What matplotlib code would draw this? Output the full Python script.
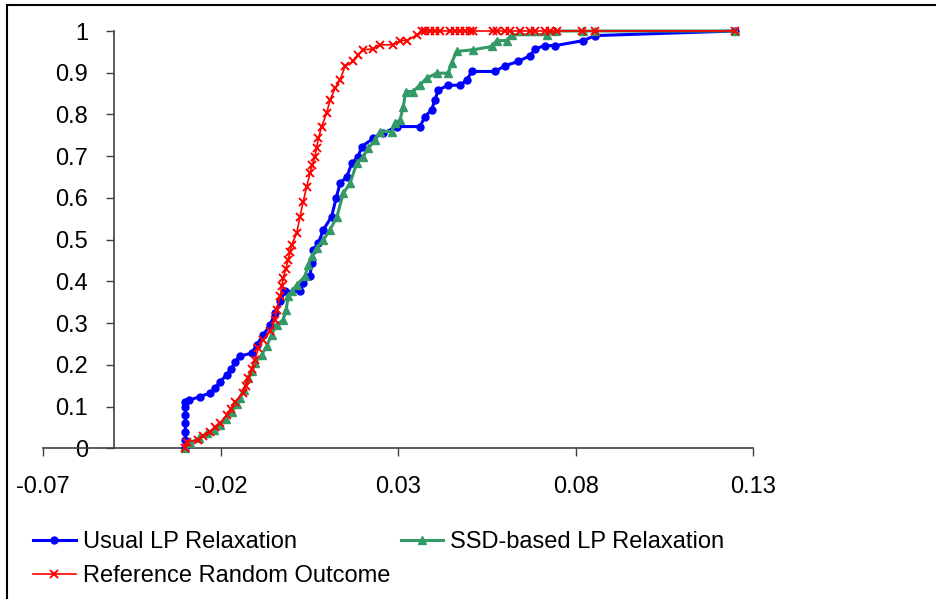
import matplotlib

matplotlib.use("Agg")
import matplotlib.pyplot as plt
from matplotlib.patches import Rectangle

plt.rcParams["font.family"] = ["Liberation Sans", "DejaVu Sans"]
plt.rcParams["axes.unicode_minus"] = False

# Usual LP Relaxation (blue circles)
usual_x = [-0.0300, -0.0300, -0.0300, -0.0300, -0.0300, -0.0300, -0.0300,
           -0.0290, -0.0259, -0.0231, -0.0215, -0.0202, -0.0183, -0.0170, -0.0160,
           -0.0146, -0.0113, -0.0099, -0.0080, -0.0061, -0.0047, -0.0033, -0.0019,
           0.0023, 0.0032, 0.0051, 0.0056, 0.0061, 0.0075, 0.0089, 0.0112, 0.0125,
           0.0136, 0.0155, 0.0169, 0.0187, 0.0197, 0.0230, 0.0258, 0.0296, 0.0361,
           0.0375, 0.0394, 0.0403, 0.0413, 0.0441, 0.0474, 0.0493, 0.0507, 0.0572,
           0.0601, 0.0638, 0.0671, 0.0685, 0.0713, 0.0742, 0.0821, 0.0854, 0.1248]
usual_y = [0.0, 0.02, 0.04, 0.06, 0.08, 0.10, 0.11,
           0.115, 0.124, 0.132, 0.145, 0.160, 0.176, 0.190, 0.208,
           0.221, 0.228, 0.248, 0.272, 0.296, 0.324, 0.352, 0.376,
           0.376, 0.396, 0.412, 0.444, 0.476, 0.492, 0.524, 0.555, 0.600,
           0.635, 0.651, 0.683, 0.699, 0.723, 0.743, 0.755, 0.771, 0.771,
           0.795, 0.811, 0.835, 0.859, 0.870, 0.870, 0.883, 0.903, 0.903,
           0.917, 0.927, 0.941, 0.957, 0.965, 0.965, 0.977, 0.989, 1.0]

# SSD-based LP Relaxation (green triangles)
ssd_x = [-0.0300, -0.0287, -0.0260, -0.0240, -0.0220, -0.0202, -0.0185, -0.0169,
         -0.0155, -0.0146, -0.0135, -0.0122, -0.0112, -0.0104, -0.0085, -0.0071,
         -0.0057, -0.0043, -0.0024, -0.0016, -0.0010, 0.0000, 0.0014, 0.0037,
         0.0047, 0.0056, 0.0070, 0.0089, 0.0108, 0.0127, 0.0145, 0.0164, 0.0183,
         0.0201, 0.0216, 0.0234, 0.0248, 0.0281, 0.0291, 0.0305, 0.0314, 0.0321,
         0.0342, 0.0361, 0.0380, 0.0408, 0.0441, 0.0450, 0.0464, 0.0511, 0.0563,
         0.0577, 0.0605, 0.0619, 0.0718, 0.0742, 0.0821, 0.0854, 0.1248]
ssd_y = [0.0, 0.012, 0.025, 0.036, 0.045, 0.056, 0.070, 0.088,
         0.105, 0.120, 0.140, 0.168, 0.185, 0.204, 0.224, 0.244,
         0.272, 0.296, 0.308, 0.332, 0.364, 0.376, 0.392, 0.412,
         0.440, 0.460, 0.480, 0.500, 0.524, 0.555, 0.611, 0.635, 0.683,
         0.699, 0.719, 0.739, 0.759, 0.759, 0.779, 0.787, 0.819, 0.855,
         0.855, 0.871, 0.887, 0.899, 0.899, 0.923, 0.951, 0.955, 0.963,
         0.977, 0.977, 0.991, 0.991, 1.0, 1.0, 1.0, 1.0]

# Reference Random Outcome (red crosses)
ref_x = [-0.0300, -0.0296, -0.0263, -0.0250, -0.0230, -0.0215, -0.0202, -0.0183,
         -0.0170, -0.0160, -0.0137, -0.0130, -0.0122, -0.0112, -0.0104, -0.0094,
         -0.0080, -0.0061, -0.0047, -0.0043, -0.0033, -0.0028, -0.0024, -0.0017,
         -0.0010, -0.0005, 0.0000, 0.0014, 0.0023, 0.0032, 0.0042, 0.0051, 0.0058,
         0.0065, 0.0070, 0.0075, 0.0084, 0.0098, 0.0108, 0.0122, 0.0136, 0.0150,
         0.0173, 0.0187, 0.0201, 0.0230, 0.0248, 0.0286, 0.0305, 0.0325, 0.0352,
         0.0366, 0.0375, 0.0389, 0.0403, 0.0417, 0.0446, 0.0460, 0.0474, 0.0488,
         0.0502, 0.0510, 0.0567, 0.0578, 0.0601, 0.0615, 0.0643, 0.0671, 0.0685,
         0.0713, 0.0727, 0.0747, 0.0817, 0.0854, 0.1248]
ref_y = [0.0, 0.016, 0.020, 0.030, 0.040, 0.050, 0.060, 0.080,
         0.095, 0.112, 0.132, 0.150, 0.168, 0.190, 0.212, 0.240,
         0.260, 0.280, 0.308, 0.332, 0.364, 0.388, 0.408, 0.430,
         0.452, 0.470, 0.488, 0.516, 0.555, 0.591, 0.627, 0.659, 0.680,
         0.699, 0.720, 0.743, 0.771, 0.803, 0.835, 0.863, 0.883, 0.915,
         0.927, 0.943, 0.955, 0.957, 0.967, 0.967, 0.977, 0.977, 0.991,
         1.0, 1.0, 1.0, 1.0, 1.0, 1.0, 1.0, 1.0, 1.0,
         1.0, 1.0, 1.0, 1.0, 1.0, 1.0, 1.0, 1.0, 1.0,
         1.0, 1.0, 1.0, 1.0, 1.0, 1.0]

x_ticks = [-0.07, -0.02, 0.03, 0.08, 0.13]
x_labels = ["-0.07", "-0.02", "0.03", "0.08", "0.13"]
y_ticks = [0, 0.1, 0.2, 0.3, 0.4, 0.5, 0.6, 0.7, 0.8, 0.9, 1.0]
y_labels = ["0", "0.1", "0.2", "0.3", "0.4", "0.5", "0.6", "0.7", "0.8", "0.9", "1"]

fig = plt.figure(figsize=(9.37, 5.99), dpi=100)
ax = fig.add_axes([43.3 / 937, 1 - 448.3 / 599, 710 / 937, 417.3 / 599])

l_usual, = ax.plot(usual_x, usual_y, color="#0000FF", lw=2.2, marker="o", ms=5,
                   mec="#0000FF", mfc="#0000FF", zorder=3, clip_on=False)
l_ssd, = ax.plot(ssd_x, ssd_y, color="#339966", lw=2.2, marker="^", ms=6,
                 mec="#339966", mfc="#339966", zorder=4, clip_on=False)
l_ref, = ax.plot(ref_x, ref_y, color="#FF0000", lw=1.2, marker="x", ms=5.5, mew=1.4,
                 zorder=5, clip_on=False)

ax.set_xlim(-0.07, 0.13)
ax.set_ylim(0, 1)
ax.set_xticks(x_ticks)
ax.set_xticklabels(x_labels)
ax.set_yticks(y_ticks)
ax.set_yticklabels(y_labels)

for side in ("top", "right"):
    ax.spines[side].set_visible(False)
ax.spines["left"].set_position(("data", -0.05))
ax.spines["bottom"].set_position(("data", 0))
for side in ("left", "bottom"):
    ax.spines[side].set_color("#404040")
    ax.spines[side].set_linewidth(1.2)
ax.tick_params(axis="both", direction="out", length=6, width=1.0, color="#404040",
               labelsize=17, labelcolor="black")
ax.tick_params(axis="y", pad=13)
ax.tick_params(axis="x", pad=14)
ax.patch.set_visible(False)

fig.legend([l_usual, l_ref, l_ssd],
           ["Usual LP Relaxation", "Reference Random Outcome", "SSD-based LP Relaxation"],
           ncol=2, loc="upper left", bbox_to_anchor=(33 / 937, 1 - 531 / 599),
           frameon=False, fontsize=17, numpoints=1, handlelength=1.8,
           handletextpad=0.3, columnspacing=0.45, labelspacing=0.5,
           borderaxespad=0, borderpad=0)

fig.patches.append(Rectangle((7 / 937, -0.05), 1.2, 1.05 - 5 / 599, transform=fig.transFigure,
                             fill=False, edgecolor="black", lw=1.5))

fig.savefig("out.png", dpi=100)
